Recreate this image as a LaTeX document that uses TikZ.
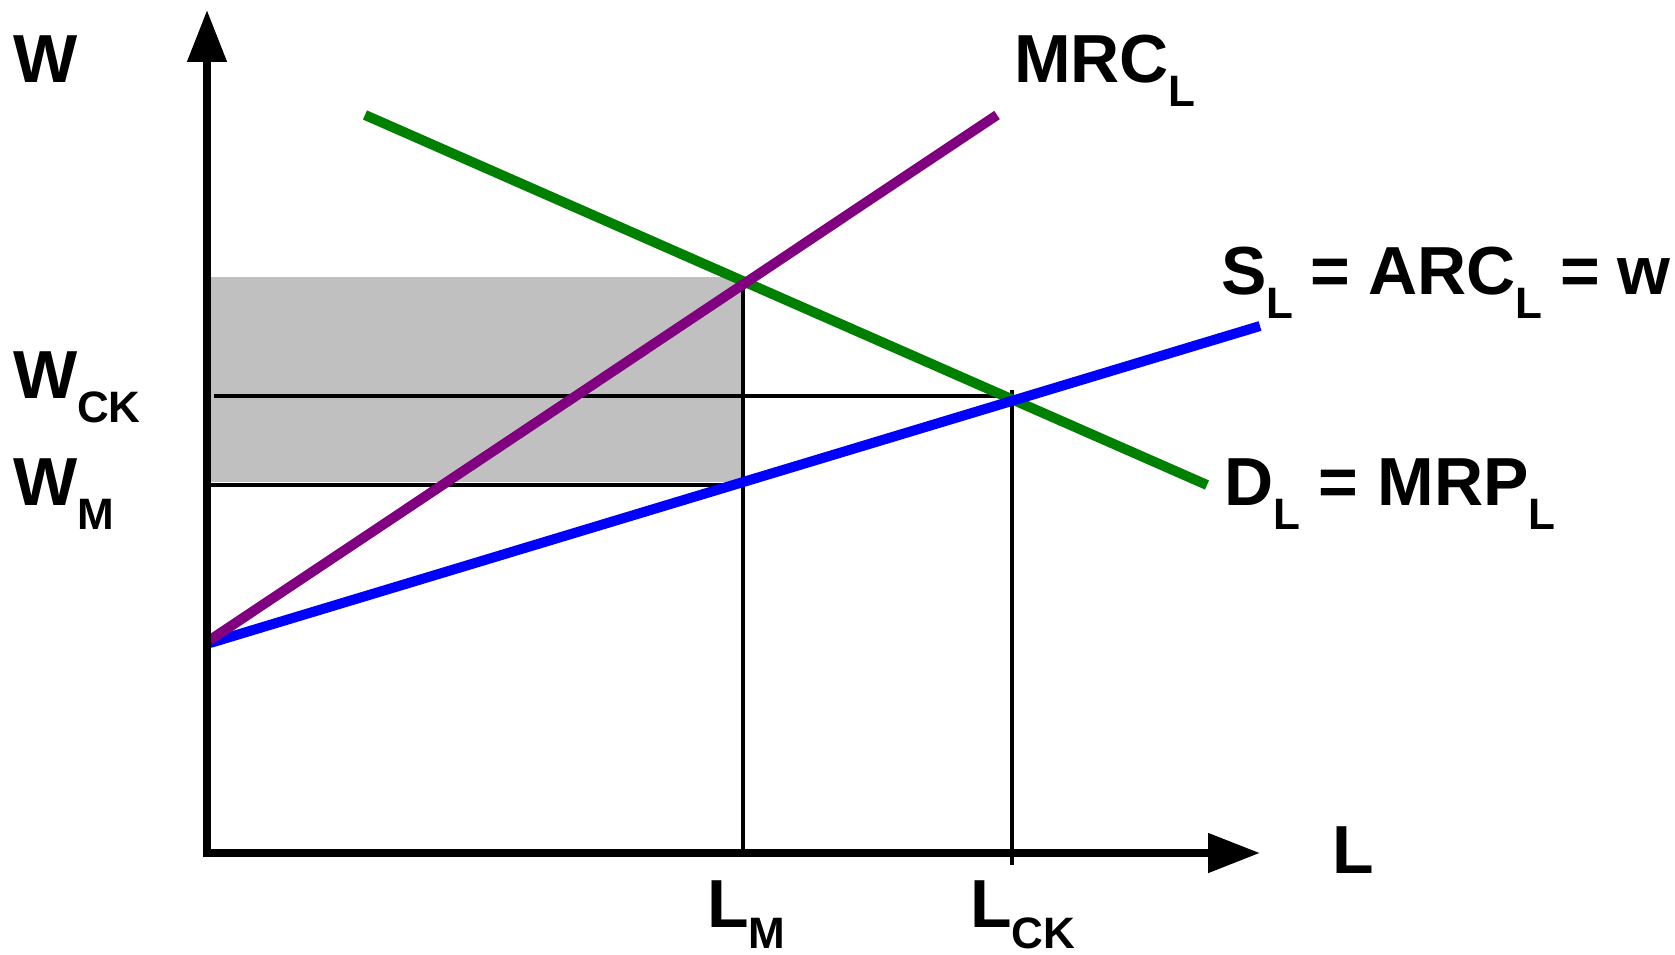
\documentclass[tikz,border=0pt]{standalone}
\usepackage{fontspec}
\setmainfont{Liberation Sans}
\usetikzlibrary{arrows.meta}
\definecolor{cgreen}{RGB}{0,128,0}
\definecolor{cpurple}{RGB}{128,0,128}
\definecolor{cblue}{RGB}{0,0,255}
\definecolor{cgray}{RGB}{192,192,192}
\newcommand{\mysub}[2][24pt]{\raisebox{-#1}[0pt][0pt]{\fontsize{44}{44}\selectfont #2}}
\begin{document}
\begin{tikzpicture}[x=1pt,y=-1pt,
  lbl/.style={anchor=base west,inner sep=0pt,outer sep=0pt,font=\fontsize{68}{68}\selectfont\bfseries},
  axisline/.style={line width=8pt},
  guide/.style={line width=4.6pt},
  curve/.style={line width=10pt}]
\useasboundingbox (0,0) rectangle (1675,955);
% coordinates
\coordinate (Ytip) at (207,10);
\coordinate (Ybot) at (207,857);
\coordinate (Xstart) at (203,853);
\coordinate (Xtip) at (1260,853);
\coordinate (LMtop) at (743,277);
\coordinate (LMbot) at (743,853);
\coordinate (LCKtop) at (1012,390);
\coordinate (LCKbot) at (1012,865);
\coordinate (WCKa) at (214,396);
\coordinate (WCKb) at (1003,396);
\coordinate (WMa) at (211,485);
\coordinate (WMb) at (734,485);
\coordinate (P1) at (210,640);
\coordinate (P2) at (997,115);
\coordinate (B1) at (210,643);
\coordinate (B2) at (1260,326);
\coordinate (G1) at (365,115);
\coordinate (G2) at (1207,485);
% shaded area
\fill[cgray] (211,277) rectangle (741,482);
% guide lines
\draw[guide] (WCKa) -- (WCKb);
\draw[guide] (WMa) -- (WMb);
\draw[guide] (LMtop) -- (LMbot);
\draw[guide] (LCKtop) -- (LCKbot);
% curves
\draw[curve,cgreen] (G1) -- (G2);
\draw[curve,cblue] (B1) -- (B2);
\draw[curve,cpurple] (P1) -- (P2);
% axes
\draw[axisline,-{Triangle[length=52pt,width=38pt]}] (Ybot) -- (Ytip);
\draw[axisline,-{Triangle[length=52pt,width=38pt]}] (Xstart) -- (Xtip);
% labels
\node[lbl] (lw) at (13,83) {W};
\node[lbl] (lwck) at (13,398) {W\mysub{CK}};
\node[lbl] (lwm) at (13,505) {W\mysub{M}};
\node[lbl] (llm) at (707,927) {L\mysub[21pt]{M}};
\node[lbl] (llck) at (970,927) {L\mysub[21pt]{CK}};
\node[lbl] (ll) at (1332,873) {L};
\node[lbl] (lmrc) at (1014,83) {MRC\mysub{L}};
\node[lbl] (ls) at (1221,294) {S\mysub{L}\hspace{0.26em}=\hspace{0.26em}ARC\mysub{L}\hspace{0.26em}=\hspace{0.26em}w};
\node[lbl] (ld) at (1224,505) {D\mysub{L} = MRP\mysub{L}};
\end{tikzpicture}
\end{document}
